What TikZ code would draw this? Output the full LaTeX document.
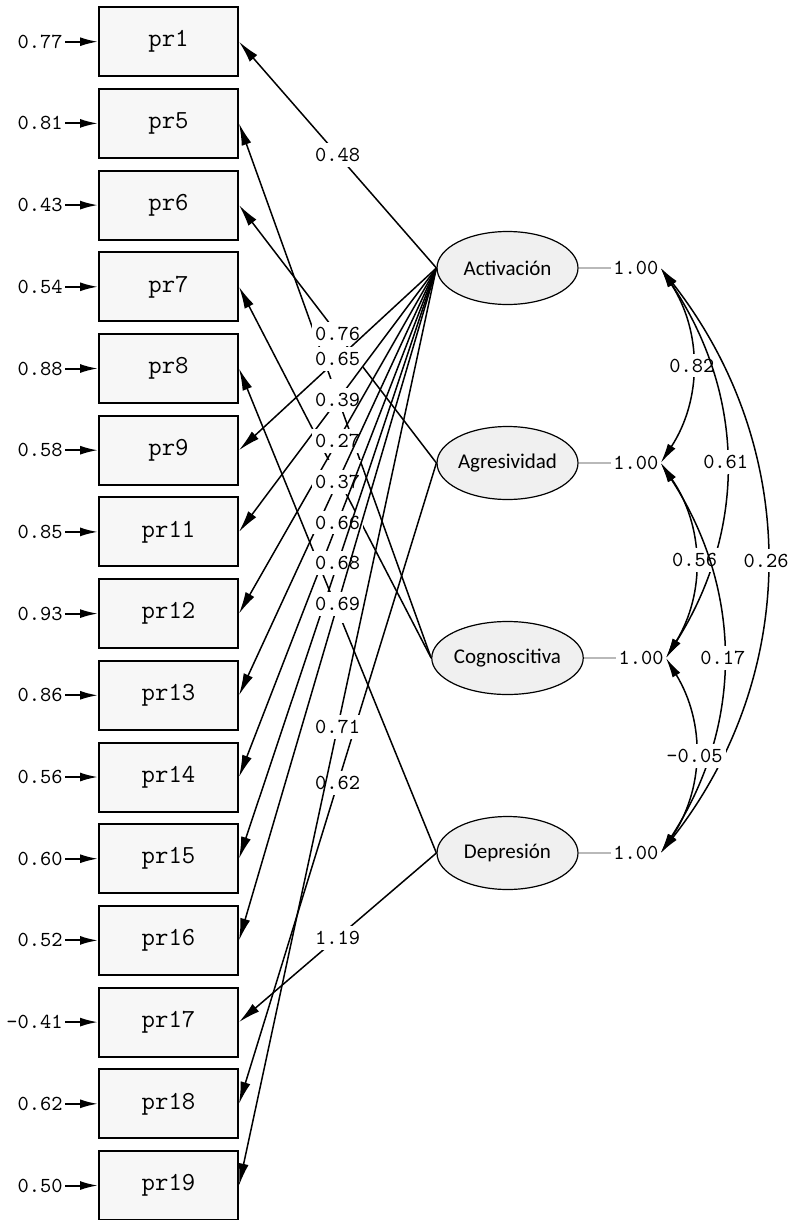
\documentclass[tikz,border=0pt]{standalone}
\usepackage{fontspec}
\setsansfont{Carlito}
\usetikzlibrary{shapes.geometric, arrows.meta, positioning}

\begin{document}
\begin{tikzpicture}[
    x=0.5pt, y=-0.5pt,
    node distance=5.35pt,
    item/.style={rectangle, draw=black, line width=1pt, fill=gray!6, minimum width=69.5pt, minimum height=34.5pt, inner sep=0pt, font=\ttfamily\fontsize{13}{14}\selectfont},
    factor/.style={ellipse, draw=black, line width=0.6pt, fill=gray!12, minimum width=70.5pt, minimum height=36.5pt, inner sep=0pt, font=\sffamily\fontsize{10.5}{12}\selectfont},
    num/.style={inner sep=1pt, font=\ttfamily\fontsize{10.7}{11}\selectfont},
    coef/.style={num, fill=white, inner xsep=1.5pt, inner ysep=2.6pt},
    load/.style={-{Latex[length=11pt, width=5pt]}, line width=0.75pt},
    errarrow/.style={-{Latex[length=9pt, width=4.5pt]}, line width=1pt},
    cov/.style={{Latex[length=10pt, width=4.5pt]}-{Latex[length=10pt, width=4.5pt]}, line width=0.75pt},
    varline/.style={draw=gray!55, line width=0.75pt}
]
\useasboundingbox (0,0) rectangle (794,1220);

% Indicators
\node[item] (pr1) at (168.5,41.7) {pr1};
\node[item, below=of pr1] (pr5) {pr5};
\node[item, below=of pr5] (pr6) {pr6};
\node[item, below=of pr6] (pr7) {pr7};
\node[item, below=of pr7] (pr8) {pr8};
\node[item, below=of pr8] (pr9) {pr9};
\node[item, below=of pr9] (pr11) {pr11};
\node[item, below=of pr11] (pr12) {pr12};
\node[item, below=of pr12] (pr13) {pr13};
\node[item, below=of pr13] (pr14) {pr14};
\node[item, below=of pr14] (pr15) {pr15};
\node[item, below=of pr15] (pr16) {pr16};
\node[item, below=of pr16] (pr17) {pr17};
\node[item, below=of pr17] (pr18) {pr18};
\node[item, below=of pr18] (pr19) {pr19};

% Error variances
\node[num, left=16.5pt of pr1] (e1) {0.77};
\node[num, left=16.5pt of pr5] (e5) {0.81};
\node[num, left=16.5pt of pr6] (e6) {0.43};
\node[num, left=16.5pt of pr7] (e7) {0.54};
\node[num, left=16.5pt of pr8] (e8) {0.88};
\node[num, left=16.5pt of pr9] (e9) {0.58};
\node[num, left=16.5pt of pr11] (e11) {0.85};
\node[num, left=16.5pt of pr12] (e12) {0.93};
\node[num, left=16.5pt of pr13] (e13) {0.86};
\node[num, left=16.5pt of pr14] (e14) {0.56};
\node[num, left=16.5pt of pr15] (e15) {0.60};
\node[num, left=16.5pt of pr16] (e16) {0.52};
\node[num, left=16.5pt of pr17] (e17) {-0.41};
\node[num, left=16.5pt of pr18] (e18) {0.62};
\node[num, left=16.5pt of pr19] (e19) {0.50};

\foreach \i in {1,5,6,7,8,9,11,12,13,14,15,16,17,18,19}
    \draw[errarrow] (e\i) -- (pr\i);

% Factors
\node[factor] (act) at (507.5,268) {Activación};
\node[factor, below=60.4pt of act] (agr) {Agresividad};
\node[factor, below=60.4pt of agr] (cog) {Cognoscitiva};
\node[factor, below=60.4pt of cog] (dep) {Depresión};

\node[num, right=16.2pt of act] (vact) {1.00};
\node[num, right=16.2pt of agr] (vagr) {1.00};
\node[num, right=16.2pt of cog] (vcog) {1.00};
\node[num, right=16.2pt of dep] (vdep) {1.00};

\draw[varline] (act) -- (vact);
\draw[varline] (agr) -- (vagr);
\draw[varline] (cog) -- (vcog);
\draw[varline] (dep) -- (vdep);

% Loadings
\draw[load] (act.west) -- node[coef] {0.48} (pr1.east);
\draw[load] (cog.west) -- node[coef] {\phantom{0.00}} (pr5.east);
\draw[load] (agr.west) -- node[coef] {0.76} (pr6.east);
\draw[load] (cog.west) -- node[coef] {\phantom{0.00}} (pr7.east);
\draw[load] (dep.west) -- node[coef] {\phantom{0.00}} (pr8.east);
\draw[load] (act.west) -- node[coef] {0.65} (pr9.east);
\draw[load] (act.west) -- node[coef] {0.39} (pr11.east);
\draw[load] (act.west) -- node[coef] {0.27} (pr12.east);
\draw[load] (act.west) -- node[coef] {0.37} (pr13.east);
\draw[load] (act.west) -- node[coef] {0.66} (pr14.east);
\draw[load] (act.west) -- node[coef] {0.68} (pr15.east);
\draw[load] (act.west) -- node[coef] {0.69} (pr16.east);
\draw[load] (dep.west) -- node[coef] {1.19} (pr17.east);
\draw[load] (agr.west) -- node[coef] {0.62} (pr18.east);
\draw[load] (act.west) -- node[coef] {0.71} (pr19.east);

% Factor covariances
\draw[cov] (vact.east) to[bend left=33] node[coef] {0.82} (vagr.east);
\draw[cov] (vact.east) to[bend left=33] node[coef] {0.61} (vcog.east);
\draw[cov] (vact.east) to[bend left=38] node[coef] {0.26} (vdep.east);
\draw[cov] (vagr.east) to[bend left=33] node[coef] {0.56} (vcog.east);
\draw[cov] (vagr.east) to[bend left=33] node[coef] {0.17} (vdep.east);
\draw[cov] (vcog.east) to[bend left=33] node[coef] {-0.05} (vdep.east);

\end{tikzpicture}
\end{document}
